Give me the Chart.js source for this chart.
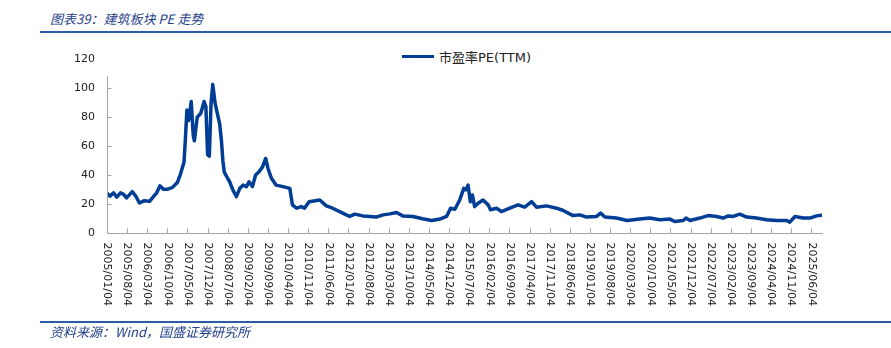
<!DOCTYPE html>
<html lang="zh-CN">
<head>
<meta charset="UTF-8">
<title>建筑板块 PE 走势</title>
<script src="https://cdn.jsdelivr.net/npm/chart.js"></script>
<style>
  html, body { margin: 0; padding: 0; background: #fff; }
  #wrap { position: relative; width: 891px; height: 348px; overflow: hidden; }
  #peChart { position: absolute; left: 0; top: 0; }
  .caption { position: absolute; left: 50px; font: italic 13px "Noto Sans CJK SC", sans-serif; color: #1f3f8a; line-height: 16px; white-space: nowrap; }
  #title { top: 11px; }
  #source { top: 324px; }
  .rule { position: absolute; left: 40px; right: 0; height: 2px; background: #2c5ca8; }
  #legend { position: absolute; left: 402px; top: 47px; height: 18px; display: flex; align-items: center; font: 13px "DejaVu Sans", "Noto Sans CJK SC", sans-serif; color: #222; white-space: nowrap; }
  #legend i { display: inline-block; width: 32px; height: 3px; background: #003d94; margin-right: 5px; }
</style>
</head>
<body>
<div id="wrap">
  <div id="title" class="caption">图表39：建筑板块 PE 走势</div>
  <div class="rule" style="top:31px"></div>
  <div id="legend"><i></i>市盈率PE(TTM)</div>
  <canvas id="peChart" width="891" height="348"></canvas>
  <div class="rule" style="top:321px"></div>
  <div id="source" class="caption">资料来源：Wind，国盛证券研究所</div>
</div>

<script>
  // x-axis tick labels (every 7 months)
  const tickLabels = [
    '2005/01/04', '2005/08/04', '2006/03/04', '2006/10/04', '2007/05/04', '2007/12/04',
    '2008/07/04', '2009/02/04', '2009/09/04', '2010/04/04', '2010/11/04', '2011/06/04',
    '2012/01/04', '2012/08/04', '2013/03/04', '2013/10/04', '2014/05/04', '2014/12/04',
    '2015/07/04', '2016/02/04', '2016/09/04', '2017/04/04', '2017/11/04', '2018/06/04',
    '2019/01/04', '2019/08/04', '2020/03/04', '2020/10/04', '2021/05/04', '2021/12/04',
    '2022/07/04', '2023/02/04', '2023/09/04', '2024/04/04', '2024/11/04', '2025/06/04'
  ];

  const dates = [
    '2005-01-04', '2005-02-04', '2005-03-13', '2005-04-16', '2005-05-25', '2005-06-28',
    '2005-07-28', '2005-09-28', '2005-11-04', '2005-12-13', '2006-02-04', '2006-03-28',
    '2006-05-04', '2006-06-13', '2006-07-16', '2006-08-25', '2006-09-28', '2006-11-25',
    '2007-01-19', '2007-02-22', '2007-03-28', '2007-04-10', '2007-04-28', '2007-05-16',
    '2007-06-13', '2007-07-04', '2007-07-16', '2007-08-16', '2007-09-22', '2007-10-28',
    '2007-11-16', '2007-12-04', '2007-12-22', '2008-01-10', '2008-01-28', '2008-02-22',
    '2008-03-16', '2008-04-10', '2008-04-28', '2008-05-13', '2008-05-28', '2008-07-04',
    '2008-07-25', '2008-08-16', '2008-08-28', '2008-10-04', '2008-11-10', '2008-12-13',
    '2009-01-19', '2009-02-16', '2009-03-22', '2009-04-25', '2009-05-31', '2009-07-07',
    '2009-08-10', '2009-09-04', '2009-10-10', '2009-11-30', '2010-02-10', '2010-04-22',
    '2010-05-19', '2010-07-01', '2010-08-22', '2010-09-25', '2010-11-13', '2011-03-04',
    '2011-05-13', '2011-07-19', '2011-11-04', '2012-01-16', '2012-03-10', '2012-06-04',
    '2012-10-25', '2013-01-04', '2013-03-16', '2013-05-25', '2013-07-31', '2013-11-16',
    '2014-02-28', '2014-06-01', '2014-08-28', '2014-11-07', '2014-12-19', '2015-02-04',
    '2015-03-25', '2015-05-07', '2015-05-28', '2015-06-22', '2015-07-16', '2015-08-07',
    '2015-08-31', '2015-10-07', '2015-11-28', '2016-01-22', '2016-02-16', '2016-04-19',
    '2016-06-10', '2016-09-07', '2016-12-04', '2017-02-13', '2017-04-25', '2017-06-16',
    '2017-10-01', '2018-01-16', '2018-03-25', '2018-07-07', '2018-09-19', '2018-11-28',
    '2019-03-13', '2019-04-25', '2019-06-10', '2019-10-10', '2020-02-01', '2020-06-13',
    '2020-09-28', '2021-01-13', '2021-04-28', '2021-06-19', '2021-09-16', '2021-10-16',
    '2021-11-28', '2022-03-10', '2022-06-07', '2022-09-04', '2022-11-13', '2023-01-07',
    '2023-02-28', '2023-05-07', '2023-07-19', '2023-10-31', '2024-02-16', '2024-05-31',
    '2024-09-16', '2024-10-19', '2024-12-13', '2025-03-10', '2025-05-19', '2025-07-28',
    '2025-09-22'
  ];

  const peTTM = [
    27.5, 25.4, 27.7, 24.7, 27.7, 26.6,
    24.2, 28.5, 25.4, 20.7, 22.3, 21.8,
    24.7, 27.7, 32.5, 30.1, 30.1, 31.3,
    34.9, 40.8, 49.0, 62.5, 84.8, 77.6,
    90.7, 67.3, 63.6, 80.0, 82.4, 90.7,
    87.2, 54.0, 53.0, 89.5, 102.5, 89.5,
    82.4, 75.3, 64.0, 50.0, 42.0, 37.6,
    35.3, 31.7, 29.7, 25.1, 30.8, 33.0,
    32.0, 35.3, 32.0, 40.0, 42.2, 45.6,
    51.4, 44.5, 37.7, 33.0, 32.0, 30.8,
    19.4, 17.1, 18.2, 17.1, 21.6, 22.8,
    18.7, 17.1, 13.7, 11.4, 13.0, 11.8,
    11.0, 12.5, 13.2, 14.1, 11.8, 11.4,
    9.8, 8.6, 9.6, 11.4, 17.1, 16.4,
    22.8, 30.8, 29.7, 33.0, 21.6, 26.2,
    18.2, 20.5, 22.8, 19.4, 16.0, 17.1,
    14.8, 17.1, 19.4, 17.8, 21.6, 17.8,
    18.7, 17.1, 15.5, 12.0, 12.5, 11.0,
    11.4, 13.7, 11.0, 10.3, 8.6, 9.6,
    10.3, 9.1, 9.6, 7.9, 8.6, 10.3,
    8.6, 10.3, 12.0, 11.4, 10.3, 11.8,
    11.4, 13.0, 11.0, 10.3, 9.1, 8.6,
    8.6, 7.5, 11.4, 10.3, 10.3, 11.8,
    12.3
  ];

  const lineColor = '#003d94';
  const axisColor = '#a3a3a3';
  const tickFont = '11px "DejaVu Sans", sans-serif';
  const yAxisTop = 108;   // y axis line stops short of the 120 label

  // months since 2005/01/04, so the x axis is linear in time
  function monthIndex(s) {
    const [y, m, d] = s.split(/[-\/]/).map(Number);
    return (y - 2005) * 12 + (m - 1) + (d - 4) / 30.4;
  }

  const points = dates.map((d, i) => ({ x: monthIndex(d), y: peTTM[i] }));

  // inward tick marks, y axis line and vertical date labels
  const axisDecor = {
    id: 'axisDecor',
    afterDraw(chart) {
      const { ctx, scales: { x, y } } = chart;
      const bottom = Math.round(y.getPixelForValue(0)) + 0.5;
      const left = Math.round(x.getPixelForValue(0)) + 0.5;
      ctx.save();
      ctx.strokeStyle = axisColor;
      ctx.lineWidth = 1;
      ctx.beginPath();
      ctx.moveTo(left, bottom);
      ctx.lineTo(left, y.getPixelForValue(yAxisTop));
      x.ticks.forEach(t => {
        const px = Math.round(x.getPixelForValue(t.value)) + 0.5;
        ctx.moveTo(px, bottom);
        ctx.lineTo(px, bottom - 5);
      });
      y.ticks.forEach(t => {
        if (t.value > yAxisTop) return;
        const py = Math.round(y.getPixelForValue(t.value)) + 0.5;
        ctx.moveTo(left, py);
        ctx.lineTo(left + 4, py);
      });
      ctx.stroke();

      ctx.fillStyle = '#222';
      ctx.font = tickFont;
      ctx.textAlign = 'left';
      ctx.textBaseline = 'middle';
      x.ticks.forEach((t, i) => {
        ctx.save();
        ctx.translate(x.getPixelForValue(t.value), bottom + 9);
        ctx.rotate(Math.PI / 2);
        ctx.fillText(tickLabels[i], 0, 0);
        ctx.restore();
      });
      ctx.restore();
    }
  };

  new Chart(document.getElementById('peChart'), {
    type: 'line',
    data: {
      datasets: [{
        label: '市盈率PE(TTM)',
        data: points,
        borderColor: lineColor,
        borderWidth: 3.5,
        borderJoinStyle: 'round',
        borderCapStyle: 'round',
        pointRadius: 0,
        tension: 0,
        fill: false
      }]
    },
    options: {
      responsive: false,
      animation: false,
      devicePixelRatio: 1,
      layout: { padding: { left: 0, right: 69, top: 59, bottom: 0 } },
      plugins: {
        legend: { display: false },
        tooltip: { enabled: false }
      },
      scales: {
        x: {
          type: 'linear',
          min: 0,
          max: 248.7,
          grid: { display: false, drawTicks: false },
          border: { display: true, color: axisColor },
          ticks: { display: false },
          afterBuildTicks: s => { s.ticks = tickLabels.map(l => ({ value: monthIndex(l) })); },
          afterFit: s => { s.height = 115; }
        },
        y: {
          min: 0,
          max: 120,
          grid: { display: false, drawTicks: false },
          border: { display: false },
          ticks: {
            stepSize: 20,
            padding: 12,
            color: '#222',
            font: { family: '"DejaVu Sans", sans-serif', size: 11 }
          },
          afterFit: s => { s.width = 107; }
        }
      }
    },
    plugins: [axisDecor]
  });
</script>
</body>
</html>
